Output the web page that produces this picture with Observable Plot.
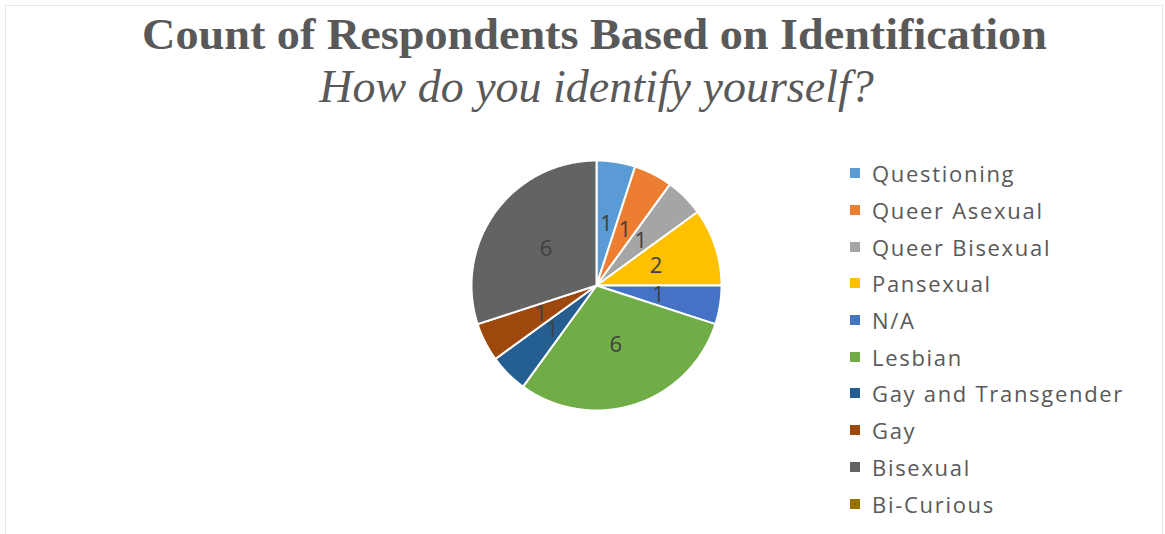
<!DOCTYPE html>
<html>
<head>
<meta charset="utf-8">
<script src="https://cdn.jsdelivr.net/npm/d3@7"></script>
<script src="https://cdn.jsdelivr.net/npm/@observablehq/plot@0.6"></script>
<style>
  html, body { margin: 0; padding: 0; background: #fff; }
  #page { position: relative; width: 1165px; height: 534px; overflow: hidden; background: #fff; }
  #frame { position: absolute; left: 5px; top: 5px; width: 1156px; height: 540px;
           border-top: 1px solid #e6e6e6; border-left: 1px solid #e6e6e6; border-right: 1px solid #e6e6e6; }
  #title { position: absolute; left: 12px; width: 1165px; top: 7px; text-align: center;
           font-family: "Liberation Serif", "DejaVu Serif", serif; font-weight: bold; font-size: 44px;
           color: #595959; line-height: 56px; white-space: nowrap; transform: scaleX(1.05); transform-origin: 583px 0; }
  #subtitle { position: absolute; left: 14px; width: 1165px; top: 59px; text-align: center;
           font-family: "Liberation Serif", "DejaVu Serif", serif; font-style: italic; font-size: 46px;
           color: #595959; line-height: 56px; white-space: nowrap; }
  #chart { position: absolute; left: 0; top: 120px; }
  #legend { position: absolute; left: 850px; top: 155px; font-family: "Open Sans", sans-serif;
            font-size: 22px; letter-spacing: 1.7px; color: #595959; }
  .item { height: 36.7px; display: flex; align-items: center; white-space: nowrap; }
  .sw { width: 10px; height: 10px; margin-right: 12px; flex: none; }
</style>
</head>
<body>
<div id="page">
  <div id="frame"></div>
  <div id="title">Count of Respondents Based on Identification</div>
  <div id="subtitle">How do you identify yourself?</div>
  <div id="chart"></div>
  <div id="legend"></div>
</div>
<script>
const categories = ["Questioning", "Queer Asexual", "Queer Bisexual", "Pansexual", "N/A", "Lesbian", "Gay and Transgender", "Gay", "Bisexual", "Bi-Curious"];
const counts = [1, 1, 1, 2, 1, 6, 1, 1, 6, 0];
const colors = ["#5B9BD5", "#ED7D31", "#A5A5A5", "#FFC000", "#4472C4", "#70AD47", "#255E91", "#9E480E", "#636363", "#997300"];

const rows = categories.map((c, i) => ({category: c, count: counts[i]}));
const arcs = d3.pie().sort(null).value(d => d.count)(rows);

// wedge outlines (unit circle, angle clockwise from 12 o'clock)
const outline = [];
for (const a of arcs) {
  if (a.endAngle <= a.startAngle) continue;
  const cat = a.data.category;
  outline.push({category: cat, x: 0, y: 0});
  const n = Math.max(2, Math.ceil((a.endAngle - a.startAngle) / (Math.PI / 180)));
  for (let k = 0; k <= n; k++) {
    const t = a.startAngle + (a.endAngle - a.startAngle) * k / n;
    outline.push({category: cat, x: Math.sin(t), y: Math.cos(t)});
  }
}
const labels = arcs.filter(a => a.data.count > 0).map(a => {
  const m = (a.startAngle + a.endAngle) / 2;
  return {category: a.data.category, count: a.data.count, x: 0.5 * Math.sin(m), y: 0.5 * Math.cos(m)};
});

const cx = 596, cy = 165, R = 125;
const chart = Plot.plot({
  width: 1165,
  height: 414,
  margin: 0,
  x: {domain: [-1, 1], range: [cx - R, cx + R], axis: null},
  y: {domain: [-1, 1], range: [cy + R, cy - R], axis: null},
  color: {domain: categories, range: colors},
  style: {background: "transparent", overflow: "visible"},
  marks: [
    Plot.line(outline, {x: "x", y: "y", z: "category", fill: "category", stroke: "white", strokeWidth: 2, curve: "linear-closed"}),
    Plot.text(labels, {x: "x", y: "y", text: d => String(d.count), fill: "#404040", fontSize: 22, fontFamily: "Open Sans, sans-serif"})
  ]
});
document.getElementById("chart").appendChild(chart);

const legend = d3.select("#legend");
categories.forEach((c, i) => {
  const it = legend.append("div").attr("class", "item");
  it.append("div").attr("class", "sw").style("background", colors[i]);
  it.append("span").text(c);
});
</script>
</body>
</html>
